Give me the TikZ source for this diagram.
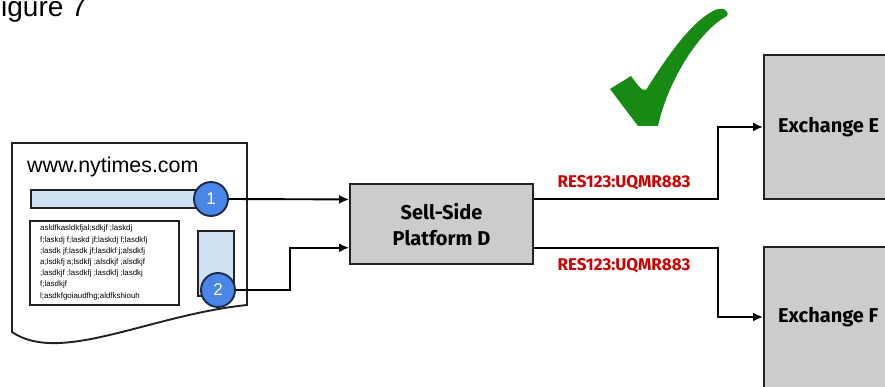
\documentclass[tikz,border=0pt]{standalone}
\usepackage{fontspec}
\setmainfont{Liberation Sans}
\newfontfamily\boldlbl{Fira Sans}
\usetikzlibrary{arrows.meta,calc}
\definecolor{boxgray}{HTML}{CCCCCC}
\definecolor{paleblue}{HTML}{CFE2F3}
\definecolor{dotblue}{HTML}{4A86E8}
\definecolor{dotedge}{HTML}{1C2A4A}
\definecolor{tagred}{HTML}{CC0000}
\definecolor{tickgreen}{HTML}{178A14}
\definecolor{edgegray}{HTML}{222222}
\tikzset{
  outline/.style={draw=edgegray,line width=1.9pt},
  graybox/.style={outline,fill=boxgray,inner sep=0pt},
  bluebox/.style={outline,fill=paleblue,inner sep=0pt},
  numdot/.style={circle,draw=dotedge,line width=1.9pt,fill=dotblue,minimum size=34pt,inner sep=0pt,
    text=white,font=\fontsize{17}{17}\selectfont},
  conn/.style={draw=black,line width=1.9pt,-{Latex[length=10pt,width=9pt]}},
  boldtext/.style={font=\boldlbl\bfseries\fontsize{20}{26}\selectfont,align=center,inner sep=0pt},
  tagtext/.style={text=tagred,font=\boldlbl\bfseries\fontsize{17}{17}\selectfont,inner sep=0pt},
}
\begin{document}
\begin{tikzpicture}[x=1pt,y=-1pt]
\clip (0,0) rectangle (885,387);

% caption fragment
\node[anchor=base west,inner sep=0pt,font=\fontsize{28}{28}\selectfont] (caption) at (1,17) {igure 7};

% web page sheet with wavy bottom
\draw[outline,fill=white] (12,143) -- (247,143) -- (247,305)
  .. controls (150,315) and (60,365) .. (12,332) -- cycle;
\node[anchor=base west,inner sep=0pt,font=\fontsize{21.4}{21.4}\selectfont] (site) at (27,173) {www.nytimes.com};

% banner slot and side slot
\node[bluebox,anchor=north west,minimum width=175pt,minimum height=18pt] (banner) at (30,189) {};
\node[bluebox,anchor=north west,minimum width=36pt,minimum height=65pt] (side) at (197,230) {};

% article text block
\node[outline,anchor=north west,minimum width=149pt,minimum height=84pt,inner sep=0pt] (article) at (29,220) {};
\node[anchor=north west,inner sep=0pt,align=left,font=\fontsize{7.9}{11.2}\selectfont] (articletext) at (40,225)
  {asldfkasldkfjal;sdkjf ;laskdj\\
   f;laskdj f;laskd jf;laskdj f;lasdkfj\\
   ;lasdk jf;lasdk jf;lasdkf j;alsdkfj\\
   a;lsdkfj a;lsdkfj ;alsdkjf ;alsdkjf\\
   ;lasdkjf ;lasdkfj ;lasdkfj ;lasdkj\\
   f;lasdkjf\\
   l;asdkfgoiaudfhg;aldfkshiouh};

% ad slot markers
\node[numdot] (c1) at (211,199) {1};
\node[numdot] (c2) at (218,290) {2};

% sell-side platform
\node[graybox,minimum width=183pt,minimum height=80pt] (ssp) at (441.5,224) {};
\node[boldtext] (ssplabel) at (441.5,225) {Sell-Side\\Platform D};

% exchanges
\node[graybox,anchor=north west,minimum width=140pt,minimum height=144pt] (exE) at (763,54) {};
\node[graybox,anchor=north west,minimum width=140pt,minimum height=142pt] (exF) at (763,246) {};
\node[boldtext,anchor=west] (exElabel) at (778,127) {Exchange E};
\node[boldtext,anchor=west] (exFlabel) at (778,317) {Exchange F};

% connectors
\coordinate (sspInA) at ($(ssp.north west)!0.2!(ssp.south west)$);
\coordinate (sspInB) at ($(ssp.north west)!0.79!(ssp.south west)$);
\coordinate (sspOutA) at ($(ssp.north east)!0.2!(ssp.south east)$);
\coordinate (sspOutB) at ($(ssp.north east)!0.79!(ssp.south east)$);
\draw[conn] (c1.east) -- (sspInA);
\draw[conn] (c2.east) -- ++(54,0) |- (sspInB);
\draw[conn] (sspOutA) -- ++(184,0) |- (exE.west);
\draw[conn] (sspOutB) -- ++(184,0) |- (exFlabel.west -| exF.west);

% bid request tags
\node[tagtext] (tagA) at (624,183) {RES123:UQMR883};
\node[tagtext] (tagB) at (624,266) {RES123:UQMR883};

% check mark
\fill[tickgreen] (610,89) -- (631,76) .. controls (637,84) and (641,91) .. (646,90)
  .. controls (665,60) and (690,22) .. (715,10)
  .. controls (722,7) and (730,10) .. (727,16)
  .. controls (700,30) and (668,80) .. (658,126)
  -- (638,126) -- cycle;
\end{tikzpicture}
\end{document}
